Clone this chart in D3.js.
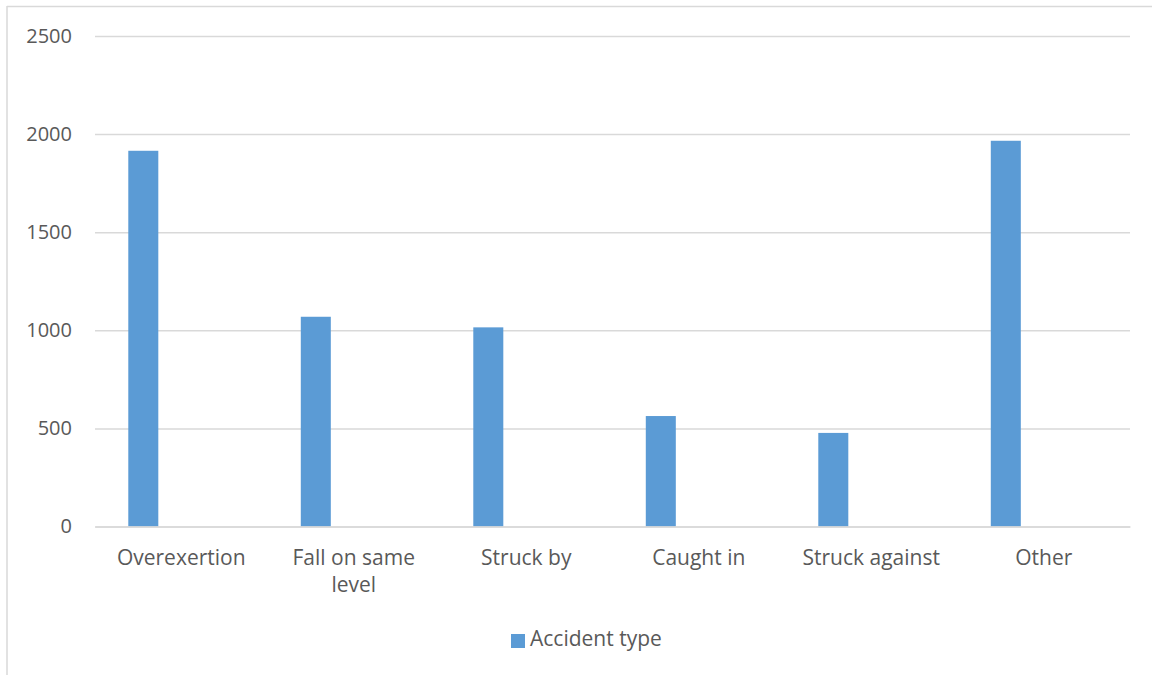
<!DOCTYPE html>
<html>
<head>
<meta charset="utf-8">
<script src="https://cdn.jsdelivr.net/npm/d3@7"></script>
<style>
  html, body { margin: 0; padding: 0; background: #fff; }
  svg { display: block; }
  text { font-family: "Open Sans", "Noto Sans", sans-serif; fill: #595959; }
</style>
</head>
<body>
<svg id="chart" width="1152" height="675"></svg>
<script>
// Accident counts by type
const categories = ["Overexertion", "Fall on same level", "Struck by", "Caught in", "Struck against", "Other"];
const values = [1915, 1069, 1015, 563, 477, 1966];
const seriesName = "Accident type";
const yTicks = [0, 500, 1000, 1500, 2000, 2500];

const W = 1152, H = 675;
const plot = { left: 95, right: 1130, top: 36, bottom: 526.5 };
const barColor = "#5B9BD5";
const gridColor = "#D9D9D9";

const svg = d3.select("#chart");

// chart frame (top and left edges)
svg.append("line").attr("x1", 7).attr("x2", W).attr("y1", 6.5).attr("y2", 6.5)
  .attr("stroke", gridColor).attr("stroke-width", 1.5);
svg.append("line").attr("x1", 7).attr("x2", 7).attr("y1", 6).attr("y2", H)
  .attr("stroke", gridColor).attr("stroke-width", 1.5);

const x = d3.scaleBand().domain(categories).range([plot.left, plot.right]).padding(0);
const y = d3.scaleLinear().domain([0, 2500]).range([plot.bottom, plot.top]);

// horizontal gridlines and value labels
const yAxis = d3.axisLeft(y).tickValues(yTicks).tickFormat(d3.format("d"))
  .tickSize(-(plot.right - plot.left)).tickPadding(23);
const gy = svg.append("g").attr("transform", `translate(${plot.left},0)`).call(yAxis);
gy.select(".domain").remove();
gy.selectAll(".tick line").attr("stroke", gridColor).attr("stroke-width", 1.5);
gy.selectAll(".tick text").attr("font-size", 20).attr("fill", "#595959")
  .style("font-family", '"Open Sans", sans-serif');

// bars: one series placed in the left part of each category slot
const bw = x.bandwidth();
svg.append("g").selectAll("rect").data(categories).join("rect")
  .attr("x", (c) => x(c) + bw * 0.193)
  .attr("width", bw * 0.174)
  .attr("y", (c, i) => y(values[i]))
  .attr("height", (c, i) => y(0) - y(values[i]))
  .attr("fill", barColor);

// category axis
const xAxis = d3.axisBottom(x).tickSize(0).tickPadding(0);
const gx = svg.append("g").attr("transform", `translate(0,${plot.bottom})`).call(xAxis);
gx.select(".domain").attr("stroke", gridColor).attr("stroke-width", 1.5);
gx.selectAll(".tick text").remove();

// wrapped category labels
const labelLines = {
  "Fall on same level": ["Fall on same", "level"]
};
const lab = svg.append("g").selectAll("text").data(categories).join("text")
  .attr("text-anchor", "middle")
  .attr("font-size", 21)
  .attr("x", (c) => x(c) + bw / 2)
  .attr("y", 565);
lab.each(function (c) {
  const lines = labelLines[c] || [c];
  d3.select(this).selectAll("tspan").data(lines).join("tspan")
    .attr("x", x(c) + bw / 2)
    .attr("dy", (d, i) => (i === 0 ? 0 : 27))
    .text((d) => d);
});

// legend
const lg = svg.append("g");
lg.append("rect").attr("x", 511).attr("y", 634).attr("width", 14).attr("height", 14).attr("fill", barColor);
lg.append("text").attr("x", 530).attr("y", 646).attr("font-size", 21).text(seriesName);
</script>
</body>
</html>
